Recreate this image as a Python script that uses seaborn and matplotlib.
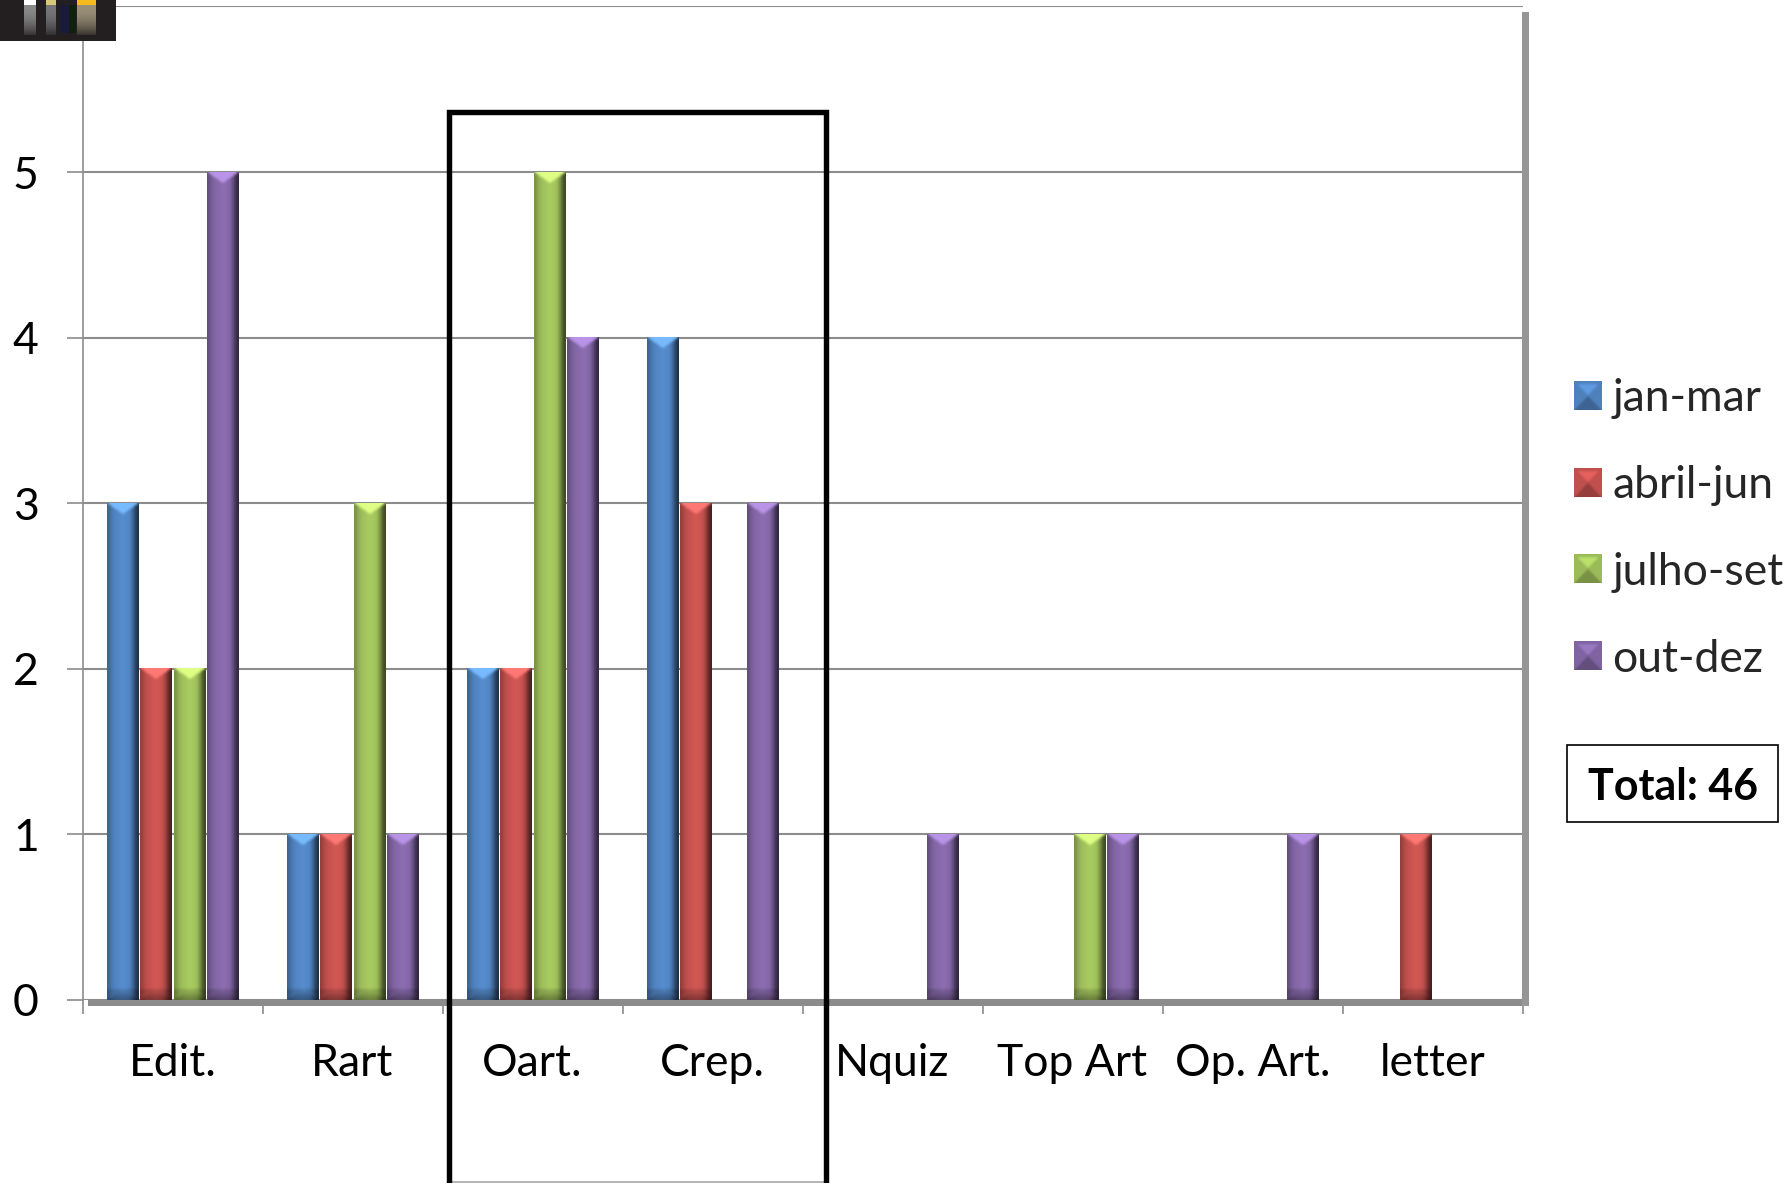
import numpy as np
import pandas as pd
import matplotlib
matplotlib.use("Agg")
import matplotlib.pyplot as plt
from matplotlib.colors import to_rgb
from matplotlib.patches import Rectangle
import seaborn as sns

categories = ["Edit.", "Rart", "Oart.", "Crep.", "Nquiz", "Top Art", "Op. Art.", "letter"]
jan_mar = [3, 1, 2, 4, 0, 0, 0, 0]
abril_jun = [2, 1, 2, 3, 0, 0, 0, 1]
julho_set = [2, 3, 5, 0, 0, 1, 0, 0]
out_dez = [5, 1, 4, 3, 1, 1, 1, 0]
series_names = ["jan-mar", "abril-jun", "julho-set", "out-dez"]
series_colors = ["#4f81bd", "#c0504d", "#9bbb59", "#8064a2"]
total_label = "Total: 46"

W, H = 1791, 1183
GRAY = "#8c8c8c"

sns.set_theme(style="white")
plt.rcParams["font.family"] = ["Lato", "DejaVu Sans"]

fig = plt.figure(figsize=(W / 100, H / 100), dpi=100, facecolor="white")
ax = fig.add_axes([82.5 / W, 1 - 1000 / H, (1522.5 - 82.5) / W, (1000 - 6.4) / H])

df = pd.DataFrame({"cat": categories, **dict(zip(series_names, [jan_mar, abril_jun, julho_set, out_dez]))})
long = df.melt(id_vars="cat", var_name="period", value_name="count")
sns.barplot(data=long, x="cat", y="count", hue="period", hue_order=series_names,
            palette=series_colors, saturation=1, width=0.745, gap=0.07, ax=ax, zorder=3,
            linewidth=0)

ax.set_xlim(-0.5, 7.5)
ax.set_ylim(0, 6)
ax.set_autoscale_on(False)
ax.set_xlabel("")
ax.set_ylabel("")
ax.set_yticks(range(0, 7), ["0", "1", "2", "3", "4", "5", ""])
ax.yaxis.grid(True, color=GRAY, lw=1.5, zorder=1)
ax.set_axisbelow(True)
ax.set_xticks(np.arange(-0.5, 8, 1), minor=True)
ax.tick_params(axis="x", which="minor", length=10, width=1.2, color=GRAY, bottom=True)
ax.tick_params(axis="x", which="major", length=0, labelsize=32, labelcolor="black", pad=31)
ax.tick_params(axis="y", which="major", length=11.5, width=1.2, color=GRAY, left=True,
               labelsize=32, labelcolor="black", pad=20)
for s in ["top", "right", "bottom"]:
    ax.spines[s].set_visible(False)
ax.spines["left"].set_color(GRAY)
ax.spines["left"].set_linewidth(1.2)


def blur(img, passes=2):
    """Soft 3x3 mean filter that keeps the image size."""
    out = img
    for _ in range(passes):
        p = np.pad(out, ((1, 1), (1, 1), (0, 0)), mode="edge")
        out = sum(p[1 + a:p.shape[0] - 1 + a, 1 + b:p.shape[1] - 1 + b]
                  for a in (-1, 0, 1) for b in (-1, 0, 1)) / 9
    return out


def bevel(color, w, h, tri=13, foot=11):
    """Per-pixel shading for one glossy bar: side shading, light top cap, dark foot."""
    base = np.array(to_rgb(color))
    w, h = max(int(round(w)), 2), max(int(round(h)), 2)
    u = (np.arange(w) + 0.5) / w
    side = np.interp(u, [0, 0.06, 0.2, 0.5, 0.72, 0.84, 0.93, 1.0],
                     [0.72, 0.82, 1.0, 1.1, 1.03, 0.72, 0.42, 0.38])
    img = np.ones((h, w, 3)) * base * side[None, :, None]
    c = np.abs(u - 0.5) * 2
    for j, y in enumerate(np.arange(h) + 0.5):
        if y < tri:
            m = (y / tri) < (1 - c) * 0.85
            img[j][m] = np.clip(base * 1.35 + 0.05, 0, 1)
        dy = h - y
        if dy < foot:
            m = (dy / foot) < (1 - c)
            img[j][m] = img[j][m] * (0.62 + 0.3 * dy / foot)
            img[j][~m] = img[j][~m] * 0.85
    return np.clip(blur(img), 0, 1)


def swatch(color, n=27):
    """Legend swatch with the same glossy look."""
    base = np.array(to_rgb(color))
    yy, xx = np.mgrid[0:n, 0:n] + 0.5
    img = np.ones((n, n, 3)) * base
    img[(yy < xx) & (yy < n - xx) & (yy > 3)] = np.clip(base * 1.2, 0, 1)
    img[(yy > xx) & (yy > n - xx)] = base * 0.78
    return np.clip(blur(img, 1), 0, 1)


def px_box(patch):
    return patch.get_window_extent(fig.canvas.get_renderer())


fig.canvas.draw()
for container, color in zip(ax.containers, series_colors):
    for bar in container:
        if bar.get_height() <= 0:
            continue
        bb = px_box(bar)
        ax.imshow(bevel(color, bb.width, bb.height), aspect="auto", zorder=4, interpolation="bilinear",
                  extent=[bar.get_x(), bar.get_x() + bar.get_width(), 0, bar.get_height()])
ax.set_xlim(-0.5, 7.5)
ax.set_ylim(0, 6)

# floor and back wall of the 3-D frame
floor = Rectangle((88 / W, 1 - 1006 / H), (1529 - 88) / W, 7 / H, transform=fig.transFigure,
                  color=GRAY, lw=0, zorder=2.5)
wall = Rectangle((1522 / W, 1 - 1006 / H), 7 / W, (1006 - 12) / H, transform=fig.transFigure,
                 color="#969696", lw=0, zorder=2.5)
ax.add_artist(floor)
ax.add_artist(wall)
floor.set_clip_on(False)
wall.set_clip_on(False)

# legend
leg = ax.get_legend()
handles = leg.legend_handles
leg.remove()
leg = ax.legend(handles, series_names, loc="upper left", bbox_to_anchor=(1561 / W, 1 - 365 / H),
                bbox_transform=fig.transFigure, frameon=False, fontsize=32, handlelength=0.61,
                handleheight=0.61, handletextpad=0.24, labelspacing=1.03, borderpad=0.3, borderaxespad=0)

# overlay axes used for the legend swatches and annotations (pixel coordinates)
ov = fig.add_axes([0, 0, 1, 1], facecolor="none", zorder=10)
ov.set_xlim(0, W)
ov.set_ylim(H, 0)
ov.axis("off")
ov.set_autoscale_on(False)

fig.canvas.draw()
for h, color in zip(leg.legend_handles, series_colors):
    bb = px_box(h)
    x0, y0 = bb.x0, H - bb.y1
    ov.imshow(swatch(color), extent=[x0, x0 + bb.width, y0 + bb.height, y0], aspect="auto", zorder=5)
ov.set_xlim(0, W)
ov.set_ylim(H, 0)

# total box
ov.add_patch(Rectangle((1567, 745), 211, 77, fc="white", ec="black", lw=1.2, zorder=5))
ov.text(1672.5, 787, total_label, ha="center", va="center", fontsize=31, fontweight="bold", color="black", zorder=6)

# black highlight frame, running off the bottom edge
ov.add_line(plt.Line2D([449, 826], [1182, 1182], color="#a8a8a8", lw=1.2, zorder=5))
ov.plot([448.5, 448.5, 826, 826], [H + 10, 112, 112, H + 10], color="black", lw=3.9,
        solid_joinstyle="miter", zorder=6, clip_on=True)

# small dark pasted thumbnail at the top left
ov.add_patch(Rectangle((0, 0), 116, 41, fc="#231f20", ec="none", zorder=7))
columns = [(24, 36, "#ffffff", "#8a8a8a"), (46, 56, "#d8c878", "#77777c"), (77, 96, "#f5bb1e", "#9a9078")]
for x0, x1, topc, midc in columns:
    ov.add_patch(Rectangle((x0, 0), x1 - x0, 5, fc=topc, ec="none", zorder=8))
    m = np.array(to_rgb(midc))
    d = np.array(to_rgb("#231f20"))
    grad = np.linspace(0, 1, 30)[:, None, None] ** 2
    ov.imshow(m * (1 - grad * 0.8) + d * grad * 0.8, extent=[x0, x1, 35, 5], aspect="auto", zorder=8)
ov.add_patch(Rectangle((60, 5), 9, 28, fc="#1a1a3a", ec="none", zorder=8))
ov.add_patch(Rectangle((69, 5), 7, 28, fc="#102010", ec="none", zorder=8))
ov.set_xlim(0, W)
ov.set_ylim(H, 0)

fig.savefig("out.png", dpi=100)
